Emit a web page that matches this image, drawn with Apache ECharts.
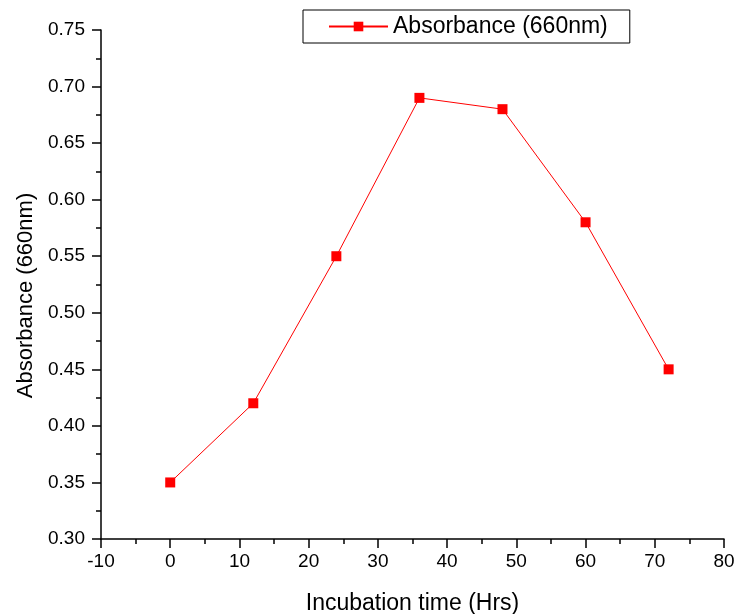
<!DOCTYPE html>
<html>
<head>
<meta charset="utf-8">
<script src="https://cdn.jsdelivr.net/npm/echarts@6/dist/echarts.min.js"></script>
<style>
  html, body { margin: 0; padding: 0; background: #fff; }
  #chart { width: 734px; height: 614px; }
</style>
</head>
<body>
<div id="chart"></div>
<script>
  // incubation time (Hrs) and absorbance
  const hours = [0, 12, 24, 36, 48, 60, 72];
  const absorbance = [0.35, 0.42, 0.55, 0.69, 0.68, 0.58, 0.45];
  const seriesName = 'Absorbance (660nm)';

  const font = "'Liberation Sans', Arial, sans-serif";
  const myChart = echarts.init(document.getElementById('chart'));

  const option = {
    animation: false,
    textStyle: { fontFamily: font },
    grid: { left: 101, right: 10, top: 30, bottom: 75, outerBoundsMode: 'none', containLabel: false },
    legend: {
      left: 303,
      top: 10,
      padding: [5, 22, 5, 25],
      borderColor: '#000',
      borderWidth: 1,
      borderRadius: 0,
      itemWidth: 59,
      itemHeight: 12,
      itemGap: 5,
      textStyle: { fontFamily: font, fontSize: 23, color: '#000' },
      data: [seriesName]
    },
    xAxis: {
      type: 'value',
      min: -10,
      max: 80,
      interval: 10,
      name: 'Incubation time (Hrs)',
      nameLocation: 'middle',
      nameGap: 53,
      nameTextStyle: { fontSize: 23, color: '#000' },
      axisLine: { onZero: false, lineStyle: { color: '#000', width: 1.5 } },
      axisTick: { length: 9, lineStyle: { color: '#000', width: 1.5 } },
      minorTick: { show: true, splitNumber: 2, length: 5, lineStyle: { color: '#000', width: 1.5 } },
      axisLabel: { fontSize: 19, color: '#000', margin: 13 },
      splitLine: { show: false }
    },
    yAxis: {
      type: 'value',
      min: 0.30,
      max: 0.75,
      interval: 0.05,
      name: seriesName,
      nameLocation: 'middle',
      nameGap: 64,
      nameTextStyle: { fontSize: 22, color: '#000', padding: [0, 22, 0, 0] },
      axisLine: { show: true, onZero: false, lineStyle: { color: '#000', width: 1.5 } },
      axisTick: { show: true, length: 9, lineStyle: { color: '#000', width: 1.5 } },
      minorTick: { show: true, splitNumber: 2, length: 5, lineStyle: { color: '#000', width: 1.5 } },
      axisLabel: {
        fontSize: 19,
        color: '#000',
        margin: 16,
        formatter: v => v.toFixed(2)
      },
      splitLine: { show: false }
    },
    series: [
      {
        name: seriesName,
        type: 'line',
        data: hours.map((h, i) => [h, absorbance[i]]),
        symbol: 'rect',
        symbolSize: 10,
        color: '#ff0000',
        lineStyle: { color: '#ff0000', width: 1 },
        itemStyle: { color: '#ff0000' }
      }
    ]
  };

  myChart.setOption(option);
</script>
</body>
</html>
